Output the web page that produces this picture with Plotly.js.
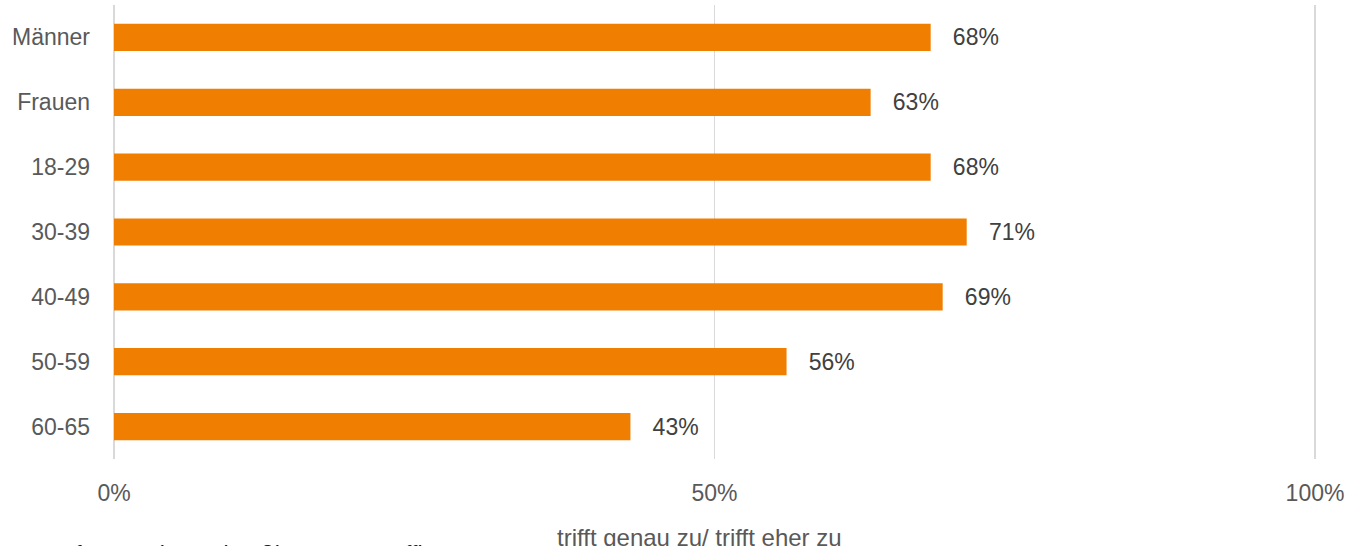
<!DOCTYPE html>
<html>
<head>
<meta charset="utf-8">
<script src="https://cdn.plot.ly/plotly-3.0.1.min.js"></script>
<style>html,body{margin:0;padding:0;background:#fff;}#chart{width:1347px;height:546px;}</style>
</head>
<body>
<div id="chart"></div>
<script>
const categories = ["Männer", "Frauen", "18-29", "30-39", "40-49", "50-59", "60-65"];
const values = [68, 63, 68, 71, 69, 56, 43];
const xTickValues = [0, 50, 100];
const xTickLabels = ["0%", "50%", "100%"];
const xTitle = "trifft genau zu/ trifft eher zu";
const footnote = "Daten: Befragte mit regelmäßigem Homeoffice, N = 2.177";

const FONT = "'Liberation Sans', Arial, sans-serif";

const trace = {
  type: "bar",
  orientation: "h",
  y: categories,
  x: values,
  width: 0.42,
  marker: { color: "#F07E00", line: { width: 0 } },
  text: values.map(v => "\u00A0\u00A0\u00A0" + v + "%"),
  textposition: "outside",
  constraintext: "none",
  cliponaxis: false,
  textfont: { family: FONT, size: 23, color: "#404040" },
  hoverinfo: "skip"
};

const layout = {
  width: 1347,
  height: 546,
  margin: { l: 111, r: 29, t: 5, b: 87, pad: 0 },
  paper_bgcolor: "#ffffff",
  plot_bgcolor: "#ffffff",
  showlegend: false,
  font: { family: FONT, size: 23, color: "#595959" },
  xaxis: {
    range: [-0.25, 100.25],
    tickvals: xTickValues,
    ticktext: xTickLabels,
    showgrid: true,
    gridcolor: "#D9D9D9",
    gridwidth: 1.5,
    zeroline: false,
    showline: false,
    ticks: "",
    ticklabelstandoff: 18,
    tickfont: { family: FONT, size: 23, color: "#595959" },
    fixedrange: true
  },
  yaxis: {
    categoryorder: "array",
    categoryarray: categories,
    autorange: "reversed",
    showgrid: false,
    zeroline: false,
    showline: false,
    ticks: "",
    ticklabelstandoff: 20,
    tickfont: { family: FONT, size: 23, color: "#595959" },
    fixedrange: true
  },
  annotations: [
    {
      xref: "paper", yref: "paper",
      x: (699 - 111) / 1207, y: (459 - 537) / 454,
      xanchor: "center", yanchor: "middle",
      text: xTitle, showarrow: false,
      font: { family: FONT, size: 24, color: "#595959" }
    },
    {
      xref: "paper", yref: "paper",
      x: (562 - 111) / 1207, y: (459 - 555) / 454,
      xanchor: "right", yanchor: "middle",
      text: footnote, showarrow: false,
      font: { family: FONT, size: 23, color: "#1a1a1a" }
    }
  ]
};

Plotly.newPlot("chart", [trace], layout, { displayModeBar: false, staticPlot: true });
</script>
</body>
</html>
